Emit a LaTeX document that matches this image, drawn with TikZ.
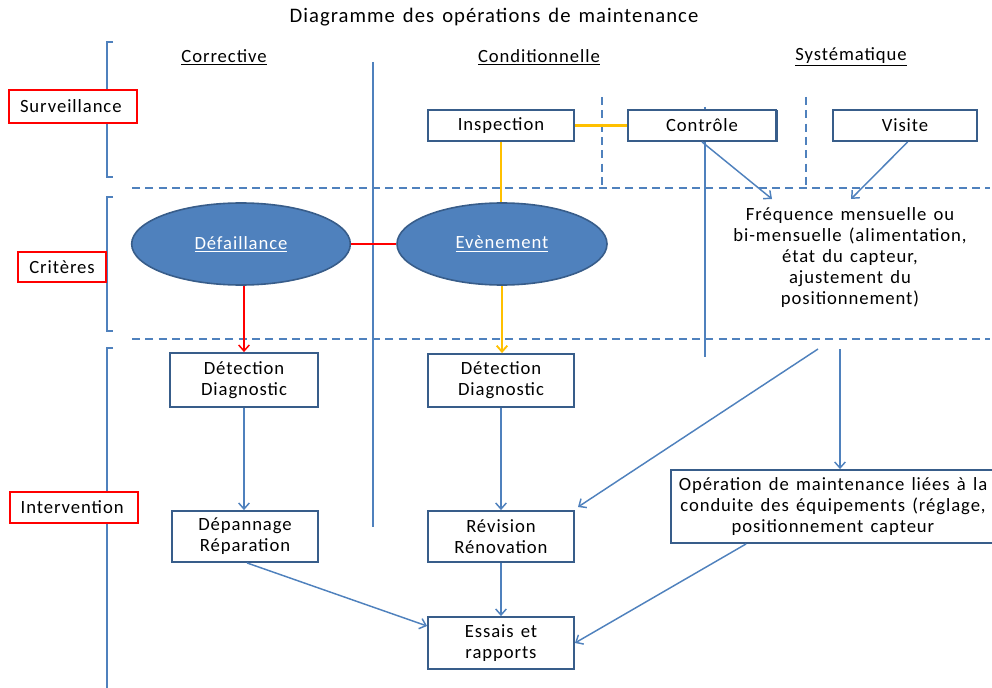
\documentclass[tikz,border=0pt]{standalone}
\usepackage{fontspec}
\setmainfont{Carlito}[LetterSpace=5, WordSpace=1.4]
\usetikzlibrary{arrows.meta,shapes.geometric}
\definecolor{lineblue}{HTML}{4F81BD}
\definecolor{edgeblue}{HTML}{385D8A}
\definecolor{alertred}{HTML}{FF0000}
\definecolor{warnyellow}{HTML}{FFC000}
\tikzset{
  txt/.style={font=\fontsize{14}{15.75}\selectfont, inner sep=0pt},
  stepbox/.style={txt, draw=edgeblue, line width=1.4pt, fill=white, align=center},
  tagbox/.style={txt, draw=alertred, line width=1.4pt, fill=white, align=left, inner xsep=8pt},
  critere/.style={ellipse, draw=edgeblue, line width=1.2pt, fill=lineblue, text=white, txt},
  bluelink/.style={draw=lineblue, line width=1.1pt},
  dashlink/.style={draw=lineblue, line width=1.1pt, dash pattern=on 6pt off 4pt},
  tip/.style={-{Straight Barb[length=4.5pt,width=8pt]}},
}
\begin{document}
\begin{tikzpicture}[x=0.75pt,y=-0.75pt]
\useasboundingbox (0,0) rectangle (992,688);

% title and column headers
\node[txt, font=\fontsize{15.5}{18}\selectfont] (title) at (494,17) {Diagramme des opérations de maintenance};
\node[txt] (hcorr) at (224,57) {\underline{Corrective}};
\node[txt] (hcond) at (539,57) {\underline{Conditionnelle}};
\node[txt] (hsyst) at (851,57) {\underline{Systématique}};

% row brackets
\draw[bluelink] (113,42) -- (107,42) -- (107,177) -- (113,177);
\draw[bluelink] (113,197) -- (107,197) -- (107,331) -- (113,331);
\draw[bluelink] (113,348) -- (107,348) -- (107,688);

% grid separators
\draw[dashlink] (132,188) -- (990,188);
\draw[dashlink] (132,339) -- (990,339);
\draw[bluelink] (373,62) -- (373,527);
\draw[dashlink] (602,97) -- (602,185);
\draw[dashlink] (806,97) -- (806,185);
\draw[bluelink] (705,107) -- (705,357);

% row labels
\node[tagbox, text width=79.5pt, minimum height=24.75pt] (surv) at (73,106.5) {Surveillance};
\node[tagbox, inner xsep=0pt, minimum width=66pt, minimum height=22.5pt, align=center] (crit) at (62,267) {Critères};
\node[tagbox, text width=80pt, minimum height=23.25pt] (interv) at (74,507.5) {Intervention};

% surveillance row
\node[stepbox, minimum width=109.5pt, minimum height=23.25pt] (insp) at (501,125.5) {Inspection};
\node[stepbox, minimum width=111pt, minimum height=23.25pt] (ctrl) at (702,125.5) {Contrôle};
\draw[edgeblue, line width=1.5pt] ([xshift=0.2pt,yshift=-1pt]ctrl.north east) -- ([xshift=0.2pt,yshift=0.3pt]ctrl.south east);
\node[stepbox, minimum width=108pt, minimum height=23.25pt] (visite) at (905,125.5) {Visite};

% criteria row
\node[critere, minimum width=164pt, minimum height=61.5pt] (def) at (241,244) {\underline{Défaillance}};
\node[critere, minimum width=157.5pt, minimum height=61.5pt] (evt) at (502,244) {\underline{Evènement}};
\node[txt, align=center] (freq) at (850,258) {Fréquence mensuelle ou\\bi-mensuelle (alimentation,\\état du capteur,\\ajustement du\\positionnement)};

% intervention row
\node[stepbox, minimum width=111pt, minimum height=40.5pt] (det1) at (244,380) {Détection\\Diagnostic};
\node[stepbox, minimum width=109.5pt, minimum height=38.25pt] (dep) at (245,536.5) {Dépannage\\Réparation};
\node[stepbox, minimum width=109.5pt, minimum height=39.75pt] (det2) at (501,380.5) {Détection\\Diagnostic};
\node[stepbox, minimum width=109.5pt, minimum height=38.25pt] (rev) at (501,536.5) {Révision\\Rénovation};
\node[stepbox, minimum width=109.5pt, minimum height=39pt] (essais) at (501,643) {Essais et\\rapports};
\node[stepbox, minimum width=243pt, minimum height=54.75pt] (oper) at (833,506.5) {Opération de maintenance liées à la\\conduite des équipements (réglage,\\positionnement capteur};

% free ends of the connectors
\coordinate (freqA) at (772,199);
\coordinate (freqB) at (851,199);
\coordinate (srcA) at (818,349);
\coordinate (srcB) at (840,349);
\coordinate (revIn) at (578,507);

% connectors
\draw[draw=warnyellow, line width=2.2pt] (insp.east) -- (ctrl.west);
\draw[draw=warnyellow, line width=1.4pt] (insp.south) -- (insp.south |- evt.north);
\draw[draw=alertred, line width=1.1pt] (def.east) -- (evt.west);
\draw[draw=alertred, line width=1.1pt, tip] (det1.north |- def.south) -- (det1.north);
\draw[draw=warnyellow, line width=1.4pt, tip] (evt.south) -- (evt.south |- det2.north);
\draw[bluelink, tip] (det1.south) -- (det1.south |- dep.north);
\draw[bluelink, tip] (det2.south) -- (rev.north);
\draw[bluelink, tip] (rev.south) -- (essais.north);
\draw[bluelink, tip] ([xshift=1.5pt]dep.south) -- ([yshift=12.75pt]essais.west);
\draw[bluelink, tip] ([xshift=57pt]oper.south west) -- (essais.east);
\draw[bluelink, tip] (ctrl.south) -- (freqA);
\draw[bluelink, tip] ([xshift=2pt]visite.south) -- (freqB);
\draw[bluelink, tip] (srcA) -- (revIn);
\draw[bluelink, tip] (srcB) -- (oper.north -| srcB);
\end{tikzpicture}
\end{document}
